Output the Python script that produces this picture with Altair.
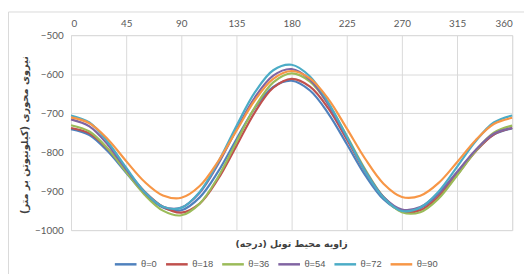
import altair as alt
import pandas as pd

angles = list(range(0, 361, 15))
series_names = ["θ=0", "θ=18", "θ=36", "θ=54", "θ=72", "θ=90"]
series_colors = ["#4F81BD", "#C0504D", "#9BBB59", "#8064A2", "#4BACC6", "#F79646"]

theta_0 = [-741, -756, -798, -853, -906, -942, -949, -916, -850, -767, -687, -633, -617,
           -642, -701, -779, -859, -921, -951, -944, -908, -853, -797, -755, -739]
theta_18 = [-738, -752, -792, -846, -901, -940, -955, -932, -869, -784, -698, -635, -612,
            -632, -688, -767, -849, -916, -952, -949, -914, -858, -799, -755, -738]
theta_36 = [-731, -747, -791, -851, -909, -950, -962, -932, -864, -774, -685, -621, -598,
            -619, -677, -758, -844, -915, -954, -954, -919, -860, -798, -750, -732]
theta_54 = [-716, -734, -781, -844, -903, -940, -942, -904, -831, -742, -660, -604, -587,
            -614, -678, -762, -848, -915, -947, -941, -905, -851, -795, -753, -738]
theta_72 = [-706, -724, -774, -840, -902, -940, -943, -902, -826, -733, -647, -590, -576,
            -606, -673, -760, -849, -917, -951, -942, -901, -838, -773, -724, -706]
theta_90 = [-711, -726, -767, -823, -876, -911, -917, -887, -824, -745, -667, -612, -592,
            -611, -664, -739, -817, -881, -915, -912, -879, -826, -770, -728, -712]

x_ticks = [0, 45, 90, 135, 180, 225, 270, 315, 360]
y_ticks = [-1000, -900, -800, -700, -600, -500]
y_title = "نیروی محوری (کیلونیوتن بر متر)"
x_title = "زاویه محیط تونل (درجه)"

rows = []
for i, (name, vals) in enumerate(zip(series_names,
                                     [theta_0, theta_18, theta_36, theta_54, theta_72, theta_90])):
    for a, v in zip(angles, vals):
        rows.append({"angle": a, "force": v, "series": name, "k": i})
df = pd.DataFrame(rows)

W, H = 448, 198

lines = alt.Chart(df).mark_line(interpolate="catmull-rom", strokeWidth=2.2).encode(
    x=alt.X("angle:Q",
            scale=alt.Scale(domain=[0, 360], nice=False, zero=False),
            axis=alt.Axis(orient="top", values=x_ticks, title=None, labelColor="#595959",
                          labelFont="Lato", labelFontSize=10, labelPadding=7,
                          ticks=False, domain=False, grid=True, gridColor="#d9d9d9")),
    y=alt.Y("force:Q",
            scale=alt.Scale(domain=[-1000, -500], nice=False, zero=False),
            axis=alt.Axis(values=y_ticks, format="d", title=y_title, labelColor="#595959",
                          labelFont="Lato", labelFontSize=10, labelPadding=8,
                          ticks=False, domain=False, grid=True, gridColor="#d9d9d9",
                          titleFont="DejaVu Sans", titleFontSize=10, titleFontWeight="bold",
                          titleColor="#404040", titleAngle=270, titleX=-47, titleY=101,
                          titleAlign="center", titleBaseline="middle")),
    color=alt.Color("series:N",
                    scale=alt.Scale(domain=series_names, range=series_colors),
                    legend=alt.Legend(title=None, orient="none", direction="horizontal",
                                      legendX=43, legendY=220, padding=0,
                                      symbolType="stroke",
                                      symbolSize=484, symbolStrokeWidth=2.5,
                                      labelFont="Liberation Sans", labelFontSize=9.5,
                                      labelColor="#595959", labelOffset=3,
                                      columnPadding=3)),
    order=alt.Order("k:Q"),
)

title_df = pd.DataFrame({"t": [x_title]})
xtitle = alt.Chart(title_df).mark_text(font="DejaVu Sans", fontSize=9.5, fontWeight="bold",
                                       color="#404040", align="center", baseline="middle").encode(
    x=alt.value(W / 2), y=alt.value(212), text="t:N")

frame = alt.Chart(pd.DataFrame({"a": [0]})).mark_rect(fill=None, stroke="#d9d9d9",
                                                      strokeWidth=1).encode(
    x=alt.value(-63.5), x2=alt.value(470), y=alt.value(-23.5), y2=alt.value(260))

chart = alt.layer(frame, lines, xtitle).properties(
    width=W, height=H,
    autosize=alt.AutoSizeParams(type="none"),
    padding={"left": 64, "top": 25.5, "right": 12, "bottom": 42},
).configure_view(stroke=None).configure(background="white")

chart.save("out.html", embed_options={"renderer": "svg", "actions": False})
